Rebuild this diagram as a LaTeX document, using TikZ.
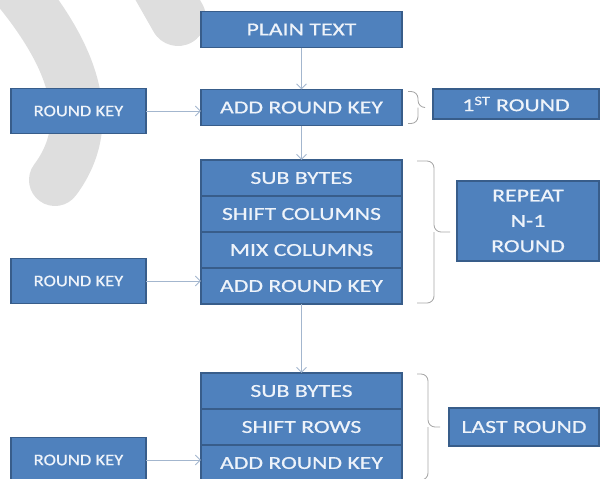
\documentclass[tikz,border=0pt]{standalone}
\usepackage{fontspec}
\setmainfont[FakeStretch=1.3,FakeBold=0.6]{Carlito}
\newfontfamily\keyfont[FakeStretch=1.15,FakeBold=0.6]{Carlito}
\usetikzlibrary{positioning,arrows.meta}
\definecolor{boxblue}{HTML}{4F81BD}
\definecolor{boxedge}{HTML}{385D8A}
\definecolor{linegray}{HTML}{A3B6CE}
\definecolor{bracegray}{HTML}{A6A6A6}
\definecolor{markgray}{HTML}{DEDEDE}
\definecolor{textwhite}{HTML}{EEF3FA}

\begin{document}
\begin{tikzpicture}[x=0.025cm,y=-0.025cm,>={Straight Barb[length=3.5pt,width=7pt]},
stepbox/.style={draw=boxedge,fill=boxblue,text=textwhite,rectangle,inner sep=0pt,outer sep=0pt,minimum width=5.025cm,minimum height=0.9cm,line width=0.8pt,font=\fontsize{13}{16}\selectfont},
keybox/.style={draw=boxedge,fill=boxblue,text=textwhite,rectangle,inner sep=0pt,outer sep=0pt,minimum width=3.375cm,minimum height=1.12cm,line width=0.8pt,font=\keyfont\fontsize{11.5}{14}\selectfont},
roundbox/.style={draw=boxedge,fill=boxblue,text=textwhite,rectangle,inner sep=0pt,align=center,line width=0.8pt,font=\fontsize{13}{18}\selectfont},
brace/.style={draw=bracegray,line width=0.6pt,rounded corners=5pt},
link/.style={draw=linegray,line width=0.7pt}]

\useasboundingbox (0,0) rectangle (600,479);
\clip (0,0) rectangle (600,479);

% watermark in the background
\draw[markgray,line width=1.3cm,line cap=round] (10,-20) .. controls (70,50) and (100,120) .. (55,180);
\draw[markgray,line width=1.4cm,line cap=round] (145,-40) -- (178,18);

% first round
\draw (301.5,29.5) node[stepbox] (plain) {PLAIN TEXT};
\draw (301.5,107.5) node[stepbox] (ark1) {ADD ROUND KEY};
\draw (78.5,111) node[keybox] (key1) {ROUND KEY};
\draw (516,104) node[roundbox,minimum width=4.15cm,minimum height=0.75cm] (first) {1\textsuperscript{ST} ROUND};

% middle rounds
\draw (301.5,178) node[stepbox] (sub1) {SUB BYTES};
\node[stepbox,below=0pt of sub1] (shiftc) {SHIFT COLUMNS};
\node[stepbox,below=0pt of shiftc] (mixc) {MIX COLUMNS};
\node[stepbox,below=0pt of mixc] (ark2) {ADD ROUND KEY};
\draw (78.5,281) node[keybox] (key2) {ROUND KEY};
\draw (528,221) node[roundbox,minimum width=3.55cm,minimum height=2cm] (repeat) {REPEAT\\N-1\\ROUND};

% last round
\draw (301.5,391) node[stepbox] (sub2) {SUB BYTES};
\node[stepbox,below=0pt of sub2] (shiftr) {SHIFT ROWS};
\node[stepbox,below=0pt of shiftr] (ark3) {ADD ROUND KEY};
\draw (78.5,460) node[keybox] (key3) {ROUND KEY};
\draw (524,427) node[roundbox,minimum width=3.75cm,minimum height=0.95cm] (last) {LAST ROUND};

\draw[link,->] (plain) -- (ark1);
\draw[link,->] (ark1) -- (sub1);
\draw[link,->] (ark2) -- (sub2);
\draw[link,->] (key1) -- (key1 -| ark1.west);
\draw[link,->] (key2) -- (key2 -| ark2.west);
\draw[link,->] (key3) -- (key3 -| ark3.west);

\draw[brace] (ark1.north east) ++(6,2) -| ++(10,16) -- ++(7,0);
\draw[brace] (ark1.south east) ++(6,-2) -| ++(10,-16);
\draw[brace] (sub1.north east) ++(15,1) -| ++(17,71) -- ++(16,0);
\draw[brace] (ark2.south east) ++(15,-1) -| ++(17,-71);
\draw[brace] (sub2.north east) ++(15,1) -| ++(11,53) -- ++(12,0);
\draw[brace] (ark3.south east) ++(15,-1) -| ++(11,-53);

\end{tikzpicture}
\end{document}
